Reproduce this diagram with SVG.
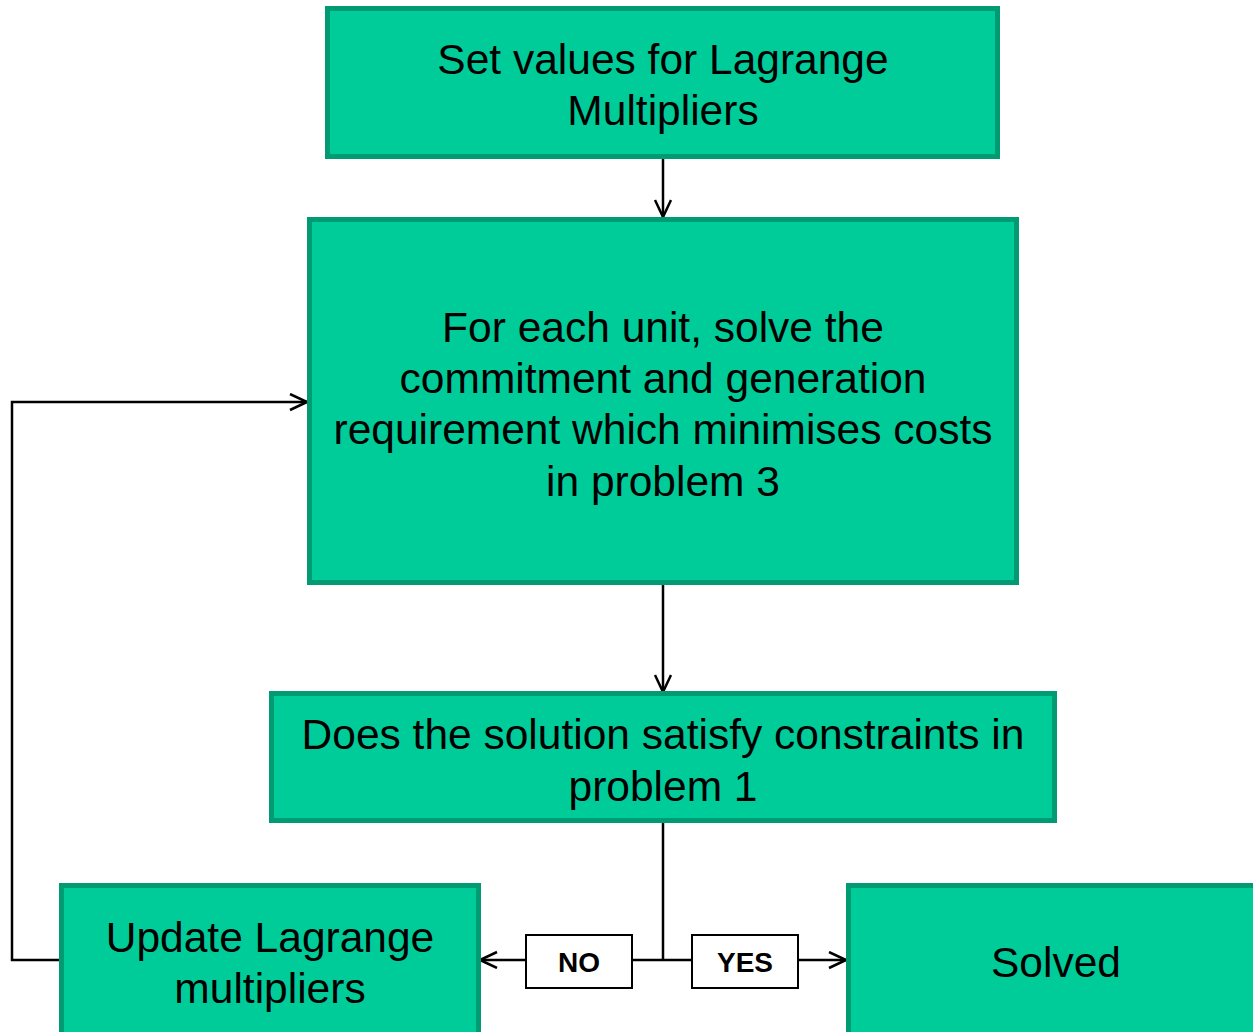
<svg xmlns="http://www.w3.org/2000/svg" width="1253" height="1032" viewBox="0 0 1253 1032">
<style>
.box{fill:#00CC99;stroke:#009A73;stroke-width:5}
.lbl{fill:#fff;stroke:#000;stroke-width:2}
.t{font-family:"Liberation Sans",Arial,sans-serif;font-size:42.5px;fill:#000;text-anchor:middle}
.b{font-family:"Liberation Sans",Arial,sans-serif;font-size:28px;font-weight:bold;fill:#000;text-anchor:middle}
.c{fill:none;stroke:#000;stroke-width:2.5}
</style>
<defs>
<marker id="ah" markerWidth="20" markerHeight="20" refX="18" refY="9" orient="auto" markerUnits="userSpaceOnUse">
<path d="M1,1 L18,9 L1,17" fill="none" stroke="#000" stroke-width="2.5"/>
</marker>
</defs>
<rect width="1253" height="1032" fill="#fff"/>
<g id="connectors">
<path class="c" d="M663,158 L663,217" marker-end="url(#ah)"/>
<path class="c" d="M663,584 L663,692" marker-end="url(#ah)"/>
<path class="c" d="M663,822 L663,960"/>
<path class="c" d="M663,960 L480,960" marker-end="url(#ah)"/>
<path class="c" d="M663,960 L846,960" marker-end="url(#ah)"/>
<path class="c" d="M59,960 L12,960 L12,402 L307,402" marker-end="url(#ah)"/>
</g>
<g id="n1">
<rect class="box" x="327.5" y="8.5" width="670" height="148"/>
<text class="t" x="663" y="74">Set values for Lagrange</text>
<text class="t" x="663" y="125">Multipliers</text>
</g>
<g id="n2">
<rect class="box" x="309.5" y="219.5" width="707" height="363"/>
<text class="t" x="663" y="342">For each unit, solve the</text>
<text class="t" x="663" y="393">commitment and generation</text>
<text class="t" x="663" y="444">requirement which minimises costs</text>
<text class="t" x="663" y="496">in problem 3</text>
</g>
<g id="n3">
<rect class="box" x="271.5" y="693.5" width="783" height="127"/>
<text class="t" x="663" y="749">Does the solution satisfy constraints in</text>
<text class="t" x="663" y="801">problem 1</text>
</g>
<g id="n4">
<rect class="box" x="61.5" y="885.5" width="417" height="160"/>
<text class="t" x="270" y="952">Update Lagrange</text>
<text class="t" x="270" y="1003">multipliers</text>
</g>
<g id="n5">
<rect class="box" x="848.5" y="885.5" width="420" height="160"/>
<text class="t" x="1056" y="977">Solved</text>
</g>
<g id="lblNo">
<rect class="lbl" x="526" y="935" width="106" height="53"/>
<text class="b" x="579" y="972">NO</text>
</g>
<g id="lblYes">
<rect class="lbl" x="692" y="935" width="106" height="53"/>
<text class="b" x="745" y="972">YES</text>
</g>
</svg>
